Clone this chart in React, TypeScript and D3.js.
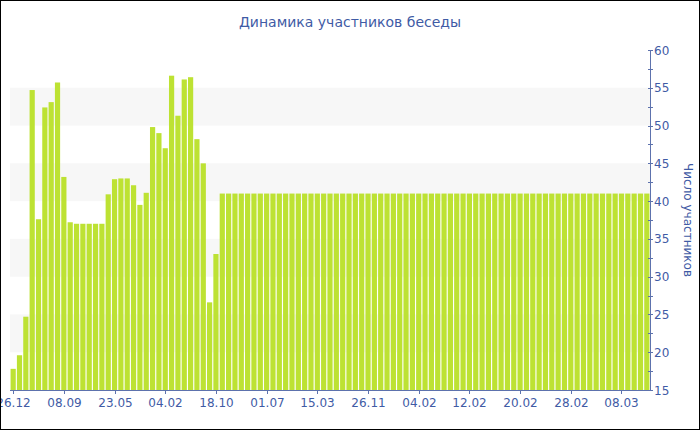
import React from "react";
import * as d3 from "d3";

const values: number[] = [
  17.8, 19.6, 24.7, 54.7, 37.6, 52.4, 53.1, 55.7, 43.2, 37.2,
  37.0, 37.0, 37.0, 37.0, 37.0, 40.9, 42.9, 43.0, 43.0, 42.1,
  39.5, 41.1, 49.8, 49.0, 47.0, 56.6, 51.3, 56.1, 56.4, 48.2,
  45.0, 26.6, 33.0, 41, 41, 41, 41, 41, 41, 41,
  41, 41, 41, 41, 41, 41, 41, 41, 41, 41,
  41, 41, 41, 41, 41, 41, 41, 41, 41, 41,
  41, 41, 41, 41, 41, 41, 41, 41, 41, 41,
  41, 41, 41, 41, 41, 41, 41, 41, 41, 41,
  41, 41, 41, 41, 41, 41, 41, 41, 41, 41,
  41, 41, 41, 41, 41, 41, 41, 41, 41, 41,
  41,
];

const tickLabels: string[] = [
  "26.12", "08.09", "23.05", "04.02", "18.10", "01.07", "15.03",
  "26.11", "04.02", "12.02", "20.02", "28.02", "08.03",
];
const tickEvery = 8;

const yTicks: number[] = [15, 20, 25, 30, 35, 40, 45, 50, 55, 60];
const bands: [number, number][] = [[20, 25], [30, 35], [40, 45], [50, 55]];

const title = "Динамика участников беседы";
const yTitle = "Число участников";

const W = 700, H = 430;
const left = 10, right = 650, top = 50, bottom = 390;
const textColor = "#3f5ba5";
const axisColor = "#5d72ad";
const barColor = "#bde233";
const font = "'DejaVu Sans', Verdana, sans-serif";

export default function App() {
  const idx = values.map((_, i) => i);
  const x = d3.scaleBand<number>().domain(idx).range([left, right]).paddingInner(0.18).paddingOuter(0.09);
  const y = d3.scaleLinear().domain([15, 60]).range([bottom, top]);
  const minor = d3.range(15, 60.01, 2.5);
  const xTickIdx = tickLabels.map((_, i) => i * tickEvery);
  const step = x.step();

  return (
    <svg width={W} height={H} style={{ position: "absolute", left: 0, top: 0, background: "#fff" }} fontFamily={font}>
      <rect x={0} y={0} width={W} height={H} fill="#fff" />
      {bands.map(([a, b], i) => (
        <rect key={i} x={left} width={right - left} y={y(b)} height={y(a) - y(b)} fill="#f7f7f7" />
      ))}
      {values.map((v, i) => (
        <rect key={i} x={x(i)!} width={x.bandwidth()} y={y(v)} height={y(15) - y(v)} fill={barColor} />
      ))}
      {/* bottom axis */}
      <line x1={left} x2={right} y1={bottom + 0.5} y2={bottom + 0.5} stroke={axisColor} />
      {xTickIdx.map((i, k) => {
        const cx = Math.round(x(i)! + x.bandwidth() / 2) + 0.5;
        return (
          <g key={k}>
            <line x1={cx} x2={cx} y1={bottom} y2={bottom + 4} stroke={axisColor} />
            <text x={cx} y={bottom + 17} textAnchor="middle" fontSize={12} fill={textColor}>{tickLabels[k]}</text>
          </g>
        );
      })}
      {/* right axis */}
      <line x1={right + 0.5} x2={right + 0.5} y1={top} y2={bottom + 1} stroke={axisColor} />
      {minor.map((t, i) => (
        <line key={i} x1={right - 2} x2={right + 3} y1={Math.round(y(t)) + 0.5} y2={Math.round(y(t)) + 0.5} stroke={axisColor} />
      ))}
      {yTicks.map((t, i) => (
        <text key={i} x={right + 4} y={y(t) + 4.5} fontSize={12} fill={textColor}>{t}</text>
      ))}
      <text transform={`translate(${684},${(top + bottom) / 2 + 0}) rotate(90)`} textAnchor="middle" fontSize={12} fill={textColor}>{yTitle}</text>
      <text x={350} y={27} textAnchor="middle" fontSize={14} fill={textColor}>{title}</text>
      <rect x={0.5} y={0.5} width={W - 1} height={H - 1} fill="none" stroke="#000" />
      {step < 0 ? null : null}
    </svg>
  );
}
